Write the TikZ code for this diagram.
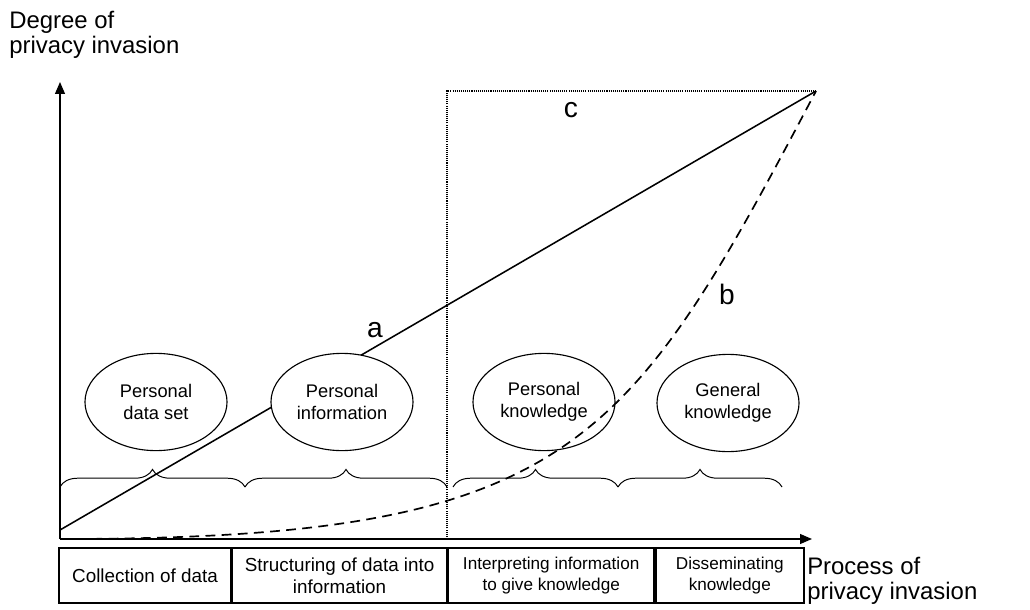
\documentclass[tikz,border=0pt]{standalone}
\usepackage{fontspec}
\setmainfont{Liberation Sans}
\usetikzlibrary{arrows.meta, positioning, decorations.pathreplacing, shapes.geometric}

\begin{document}
\begin{tikzpicture}[x=0.025cm, y=-0.025cm,
  stage/.style={draw, ellipse, fill=white, minimum width=3.55cm, minimum height=2.43cm,
                inner sep=0pt, align=center, font=\fontsize{13}{15.8}\selectfont, line width=0.8pt},
  phase/.style={draw, rectangle, minimum height=1.375cm, inner sep=0pt, align=center,
                font=\fontsize{13.4}{15.5}\selectfont, line width=1.1pt},
  axis/.style={-{Triangle[length=8.5pt,width=7pt]}, line width=1.1pt},
  grp/.style={decorate, decoration={brace, amplitude=12.5pt}, line width=0.7pt},
  axlabel/.style={align=left, font=\fontsize{17}{17.8}\selectfont, inner sep=0pt},
  curvelabel/.style={font=\fontsize{20}{24}\selectfont, inner sep=0pt},
]
\useasboundingbox (0,0) rectangle (1030,610);

\coordinate (O) at (60,539);
\coordinate (ytop) at (60,82);
\coordinate (xend) at (812,539);
\coordinate (peak) at (816,91);
\coordinate (astart) at (60,530);
\coordinate (cut) at (447,539);
\coordinate (cuttop) at (447,91);

% axes and their labels
\draw[axis] (O) -- (ytop);
\draw[axis] (O) -- (xend);
\node[axlabel, anchor=north west] (ylab) at (9,11) {Degree of\\privacy invasion};
\node[axlabel, anchor=north west] (xlab) at (807,557) {Process of\\privacy invasion};

% stages of the process
\node[phase, minimum width=4.3cm] (collect) at (145,575.5) {Collection of data};
\node[phase, minimum width=5.35cm, right=0pt of collect] (struct) {Structuring of data into\\information};
\node[phase, minimum width=5.15cm, right=0pt of struct, font=\fontsize{12.2}{15.2}\selectfont] (interp) {Interpreting information\\to give knowledge};
\node[phase, minimum width=3.7cm, right=0pt of interp, font=\fontsize{12.2}{15.2}\selectfont] (dissem) {Disseminating\\knowledge};

% braces
\draw[grp] (60,487) -- (245,487);
\draw[grp] (245,487) -- (447,487);
\draw[grp] (453,487) -- (618,487);
\draw[grp] (618,487) -- (782,487);

% curve a
\draw[line width=1.1pt] (astart) -- (peak);

% outcomes
\node[stage] (dataset) at (156,402) {Personal\\data set};
\node[stage] (info) at (342,402) {Personal\\information};
\node[stage] (pknow) at (544,402) {Personal\\knowledge};
\node[stage] (gknow) at (728,403) {General\\knowledge};

% curve b and limit c
\draw[line width=1.2pt, dash pattern=on 7pt off 4.5pt] (O) .. controls (572,539) and (627,449) .. (peak);
\draw[line width=0.9pt, dash pattern=on 0.75pt off 0.75pt] (cut) -- (cuttop) -- (peak);

\node[curvelabel] (la) at (375,330) {a};
\node[curvelabel] (lb) at (727,294) {b};
\node[curvelabel] (lc) at (571,110) {c};
\end{tikzpicture}
\end{document}
